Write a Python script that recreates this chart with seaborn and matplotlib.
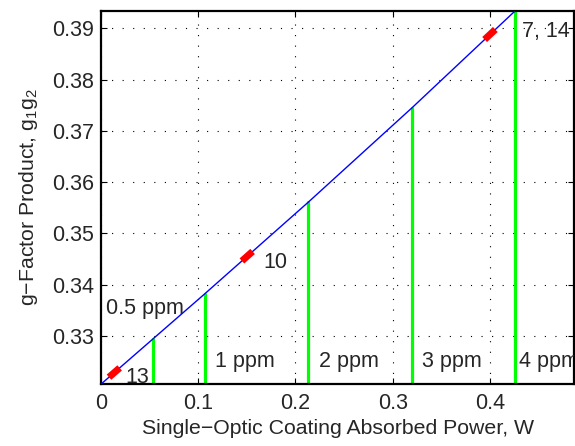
import matplotlib
matplotlib.use("Agg")
import matplotlib.pyplot as plt
import seaborn as sns
import numpy as np
import pandas as pd

# Data
curve_power = [0.0, 0.0533, 0.1066, 0.2132, 0.3198, 0.4264]
curve_g = [0.3206, 0.3294, 0.3382, 0.3561, 0.3745, 0.3935]

ppm_labels = ["0.5 ppm", "1 ppm", "2 ppm", "3 ppm", "4 ppm"]
ppm_power = [0.0531, 0.1066, 0.2132, 0.3201, 0.4260]
ppm_g = [0.3294, 0.3382, 0.3561, 0.3745, 0.3935]

marker_labels = ["13", "10", "7, 14"]
marker_power = [0.0137, 0.1504, 0.4000]
marker_g = [0.3227, 0.3455, 0.3888]

xticks = [0, 0.1, 0.2, 0.3, 0.4]
yticks = [0.33, 0.34, 0.35, 0.36, 0.37, 0.38, 0.39]

sns.set_theme(style="white")
plt.rcParams['font.family'] = ['Liberation Sans', 'DejaVu Sans']
plt.rcParams['mathtext.fontset'] = 'custom'
plt.rcParams['mathtext.rm'] = 'Liberation Sans'
plt.rcParams['mathtext.it'] = 'Liberation Sans'

fig = plt.figure(figsize=(5.75, 4.46), dpi=100)
ax = fig.add_axes([101/575, 1 - 384.3/446, (574 - 101)/575, (384.3 - 10.7)/446])

ymin, ymax = 0.32057, 0.39344
xmin, xmax = 0.0, 0.4864

df = pd.DataFrame({"P": curve_power, "g": curve_g})
sns.lineplot(data=df, x="P", y="g", ax=ax, color="#0000ff", lw=1.0, zorder=3)

for p, g in zip(ppm_power, ppm_g):
    ax.plot([p, p], [ymin, g], color="#00ff00", lw=2.3, zorder=2)

# red markers: short thick segments along the curve
for p in marker_power:
    xs = np.array([p - 0.0055, p + 0.0055])
    ys = np.interp(xs, curve_power, curve_g)
    ax.plot(xs, ys, color="#ff0000", lw=5, solid_capstyle="butt", zorder=4)

fs = 15.5
ax.text(0.0248, 0.3219, marker_labels[0], fontsize=fs, va="center", ha="left")
ax.text(0.1665, 0.3444, marker_labels[1], fontsize=fs, va="center", ha="left")
ax.text(0.4330, 0.3893, marker_labels[2], fontsize=fs, va="center", ha="left")

ax.text(0.0050, 0.3354, ppm_labels[0], fontsize=fs, va="center", ha="left")
label_offsets = [0.0105, 0.0105, 0.0105, 0.0035]
for lab, p, off in zip(ppm_labels[1:], ppm_power[1:], label_offsets):
    ax.text(p + off, 0.3251, lab, fontsize=fs, va="center", ha="left", clip_on=True)

ax.set_xlim(xmin, xmax)
ax.set_ylim(ymin, ymax)
ax.set_xticks(xticks)
ax.set_xticklabels(["0", "0.1", "0.2", "0.3", "0.4"])
ax.set_yticks(yticks)
ax.set_yticklabels([f"{v:.2f}" for v in yticks])
ax.tick_params(direction="in", length=4, width=0.8, top=True, right=True,
               bottom=True, left=True, labelsize=fs, color="black", pad=6)
ax.tick_params(axis="y", pad=5)
ax.grid(True, color="black", linestyle=(0, (1, 8.5)), linewidth=0.8, zorder=0)
ax.set_axisbelow(True)
for s in ax.spines.values():
    s.set_color("black")
    s.set_linewidth(1.6)

ax.set_xlabel("Single\u2212Optic Coating Absorbed Power, W", fontsize=15.3, labelpad=4)
ax.set_ylabel("g\u2212Factor Product, g$_1$g$_2$", fontsize=15.3, labelpad=9)

fig.savefig("out.png", dpi=100)
